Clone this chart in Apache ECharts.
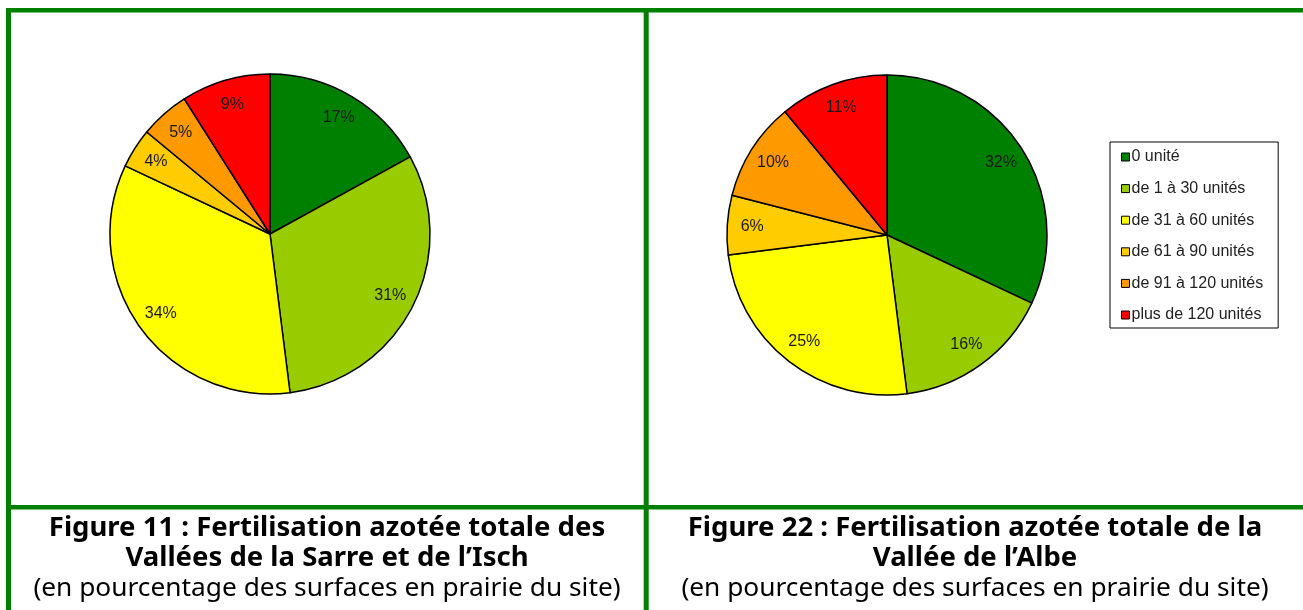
<!DOCTYPE html>
<html>
<head>
<meta charset="utf-8">
<script src="https://cdn.jsdelivr.net/npm/echarts@6/dist/echarts.min.js"></script>
<style>
html,body{margin:0;padding:0;background:#fff;}
#chart{width:1303px;height:610px;}
</style>
</head>
<body>
<div id="chart"></div>
<script>
const categories = ['0 unité', 'de 1 à 30 unités', 'de 31 à 60 unités', 'de 61 à 90 unités', 'de 91 à 120 unités', 'plus de 120 unités'];
const colors = ['#008000', '#99cc00', '#ffff00', '#ffcc00', '#ff9900', '#ff0000'];
const valuesSarre = [17, 31, 34, 4, 5, 9];
const valuesAlbe = [32, 16, 25, 6, 10, 11];
const titleSarre = ['Figure 11 : Fertilisation azotée totale des', 'Vallées de la Sarre et de l’Isch'];
const titleAlbe = ['Figure 22 : Fertilisation azotée totale de la', 'Vallée de l’Albe'];
const subtitleText = '(en pourcentage des surfaces en prairie du site)';

const chart = echarts.init(document.getElementById('chart'), null, {renderer: 'canvas'});

function pieData(vals) {
  return categories.map((c, i) => ({name: c, value: vals[i], itemStyle: {color: colors[i]}}));
}
function pieSeries(vals, center) {
  return {
    type: 'pie', center: center, radius: [0, 160], startAngle: 90, clockwise: true,
    silent: true, animation: false,
    itemStyle: {borderColor: '#000', borderWidth: 1.5},
    label: {show: false}, labelLine: {show: false},
    emphasis: {disabled: true},
    data: pieData(vals)
  };
}
function labelSeries(vals, center) {
  return {
    type: 'pie', center: center, radius: [104, 160], startAngle: 90, clockwise: true,
    silent: true, animation: false,
    itemStyle: {color: 'rgba(0,0,0,0)', borderWidth: 0},
    label: {show: true, position: 'inside', formatter: '{c}%', color: '#1a1a1a',
            fontFamily: 'Liberation Sans, Arial, sans-serif', fontSize: 16},
    labelLine: {show: false},
    emphasis: {disabled: true},
    data: categories.map((c, i) => ({name: c, value: vals[i]}))
  };
}

const green = '#008000';
const titleFont = 'Noto Sans, Open Sans, sans-serif';
function titleBlock(lines, cx) {
  const arr = [];
  lines.forEach((t, i) => {
    arr.push({type: 'text', x: cx, y: 528 + i * 30, style: {text: t, fill: '#000', font: 'bold 27.5px ' + titleFont, textAlign: 'center', textVerticalAlign: 'middle'}});
  });
  arr.push({type: 'text', x: cx, y: 589, style: {text: subtitleText, fill: '#000', font: '26.3px ' + titleFont, textAlign: 'center', textVerticalAlign: 'middle'}});
  return arr;
}

chart.setOption({
  animation: false,
  legend: {
    orient: 'vertical', left: 1110, top: 142,
    data: categories,
    padding: [7, 15, 5, 11],
    itemGap: 15.6,
    itemWidth: 8, itemHeight: 8,
    icon: 'rect',
    borderColor: '#000', borderWidth: 1,
    itemStyle: {borderColor: '#000', borderWidth: 1},
    textStyle: {fontFamily: 'Liberation Sans, Arial, sans-serif', fontSize: 16, color: '#222', lineHeight: 16, padding: [0, 0, 0, -3]},
    selectedMode: false
  },
  series: [
    pieSeries(valuesSarre, [270, 234]),
    pieSeries(valuesAlbe, [887, 235]),
    labelSeries(valuesSarre, [270, 234]),
    labelSeries(valuesAlbe, [887, 235])
  ],
  graphic: [
    {type: 'line', shape: {x1: 6, y1: 10.3, x2: 1303, y2: 10.3}, style: {stroke: green, lineWidth: 4.6}, silent: true},
    {type: 'line', shape: {x1: 8.5, y1: 8, x2: 8.5, y2: 610}, style: {stroke: green, lineWidth: 5}, silent: true},
    {type: 'line', shape: {x1: 646.2, y1: 8, x2: 646.2, y2: 610}, style: {stroke: green, lineWidth: 5}, silent: true},
    {type: 'line', shape: {x1: 6, y1: 507.2, x2: 1303, y2: 507.2}, style: {stroke: green, lineWidth: 4.4}, silent: true},
    ...titleBlock(titleSarre, 327),
    ...titleBlock(titleAlbe, 975)
  ]
});
</script>
</body>
</html>
